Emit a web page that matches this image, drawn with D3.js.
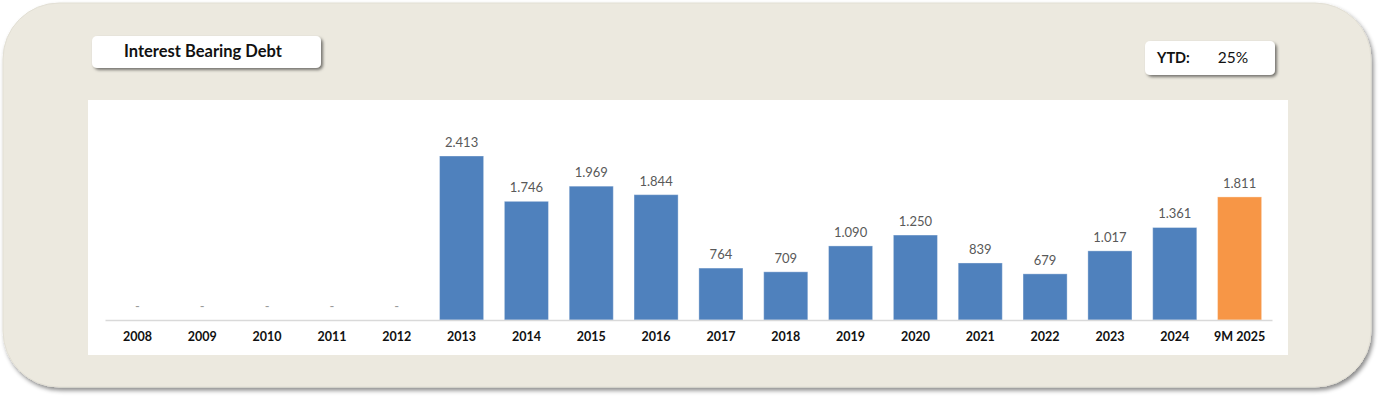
<!DOCTYPE html>
<html>
<head>
<meta charset="utf-8">
<script src="https://cdn.jsdelivr.net/npm/d3@7"></script>
<style>
	html, body { margin: 0; padding: 0; background: #ffffff; }
	svg { display: block; }
	text { font-family: Lato, "Open Sans", sans-serif; }
</style>
</head>
<body>
<div id="chart"></div>
<script>
	/* Chart data */
	const categories = ["2008", "2009", "2010", "2011", "2012", "2013", "2014", "2015", "2016", "2017", "2018", "2019", "2020", "2021", "2022", "2023", "2024", "9M 2025"];
	const debtValues = [0, 0, 0, 0, 0, 2413, 1746, 1969, 1844, 764, 709, 1090, 1250, 839, 679, 1017, 1361, 1811];
	const titleText = "Interest Bearing Debt";
	const ytdLabel = "YTD:";
	const ytdValue = "25%";

	const width = 1379;
	const height = 398;
	const blue = "#4F81BD";
	const orange = "#F79646";

	// Thousands separator is a dot in the source
	const locale = d3.formatLocale({ decimal: ",", thousands: ".", grouping: [3], currency: ["", ""] });
	const fmt = locale.format(",d");

	const svg = d3.select("#chart").append("svg")
		.attr("width", width)
		.attr("height", height);

	let defs = svg.append("defs");

	let panelShadow = defs.append("filter").attr("id", "panelShadow")
		.attr("x", "-5%").attr("y", "-5%").attr("width", "110%").attr("height", "115%");
	panelShadow.append("feDropShadow")
		.attr("dx", 2).attr("dy", 3).attr("stdDeviation", 2)
		.attr("flood-color", "#000").attr("flood-opacity", 0.45);

	let boxShadow = defs.append("filter").attr("id", "boxShadow")
		.attr("x", "-10%").attr("y", "-30%").attr("width", "120%").attr("height", "170%");
	boxShadow.append("feDropShadow")
		.attr("dx", 2).attr("dy", 2).attr("stdDeviation", 1.5)
		.attr("flood-color", "#000").attr("flood-opacity", 0.5);

	// Outer panel
	svg.append("rect")
		.attr("x", 3).attr("y", 3)
		.attr("width", 1368).attr("height", 384)
		.attr("rx", 56).attr("ry", 56)
		.attr("fill", "#ECE9DF")
		.attr("stroke", "#E2DFD4")
		.attr("filter", "url(#panelShadow)");

	// Title box
	svg.append("rect")
		.attr("x", 92).attr("y", 36)
		.attr("width", 229).attr("height", 32)
		.attr("rx", 5)
		.attr("fill", "#fff")
		.attr("filter", "url(#boxShadow)");
	svg.append("text")
		.attr("x", 203).attr("y", 53)
		.attr("text-anchor", "middle")
		.attr("dominant-baseline", "middle")
		.attr("font-size", 16.5)
		.attr("font-weight", "bold")
		.attr("fill", "#111")
		.text(titleText);

	// YTD box
	svg.append("rect")
		.attr("x", 1145).attr("y", 41)
		.attr("width", 130).attr("height", 34)
		.attr("rx", 5)
		.attr("fill", "#fff")
		.attr("filter", "url(#boxShadow)");
	svg.append("text")
		.attr("x", 1157).attr("y", 59)
		.attr("dominant-baseline", "middle")
		.attr("font-size", 14.5)
		.attr("font-weight", "bold")
		.attr("fill", "#111")
		.text(ytdLabel);
	svg.append("text")
		.attr("x", 1233).attr("y", 59)
		.attr("text-anchor", "middle")
		.attr("dominant-baseline", "middle")
		.attr("font-size", 15.5)
		.attr("fill", "#111")
		.text(ytdValue);

	// Plot area
	svg.append("rect")
		.attr("x", 88).attr("y", 100)
		.attr("width", 1200).attr("height", 255)
		.attr("fill", "#fff");

	const baseY = 320;
	const xScale = d3.scaleBand()
		.domain(categories)
		.range([105, 1272])
		.paddingInner(0.32)
		.paddingOuter(0.16);

	const yScale = d3.scaleLinear()
		.domain([0, 2413])
		.range([baseY, 156]);

	const bars = svg.append("g").classed("bars", true);

	bars.selectAll("rect")
		.data(categories)
		.enter()
		.append("rect")
		.attr("x", function(d) { return xScale(d); })
		.attr("y", function(d, i) { return yScale(debtValues[i]); })
		.attr("width", xScale.bandwidth())
		.attr("height", function(d, i) { return baseY - yScale(debtValues[i]); })
		.attr("fill", function(d, i) { return i === categories.length - 1 ? orange : blue; })
		.attr("stroke", function(d, i) { return debtValues[i] ? "#ffffff" : "none"; })
		.attr("stroke-opacity", 0.35)
		.attr("stroke-width", 1);

	bars.selectAll("text")
		.data(categories)
		.enter()
		.append("text")
		.attr("x", function(d) { return xScale(d) + xScale.bandwidth() / 2; })
		.attr("y", function(d, i) { return yScale(debtValues[i]) - 9; })
		.attr("text-anchor", "middle")
		.attr("font-size", 13)
		.attr("fill", function(d, i) { return debtValues[i] ? "#595959" : "#9a9a9a"; })
		.text(function(d, i) { return debtValues[i] ? fmt(debtValues[i]) : "-"; });

	// X axis
	const xAxis = svg.append("g")
		.attr("transform", "translate(0," + baseY + ")")
		.call(d3.axisBottom(xScale).tickSize(0).tickPadding(12));
	xAxis.select(".domain")
		.attr("stroke", "#D9D9D9")
		.attr("stroke-width", 1.5);
	xAxis.selectAll(".tick text")
		.attr("font-family", "Lato, 'Open Sans', sans-serif")
		.attr("font-size", 12.5)
		.attr("font-weight", "bold")
		.attr("fill", "#111");
</script>
</body>
</html>
